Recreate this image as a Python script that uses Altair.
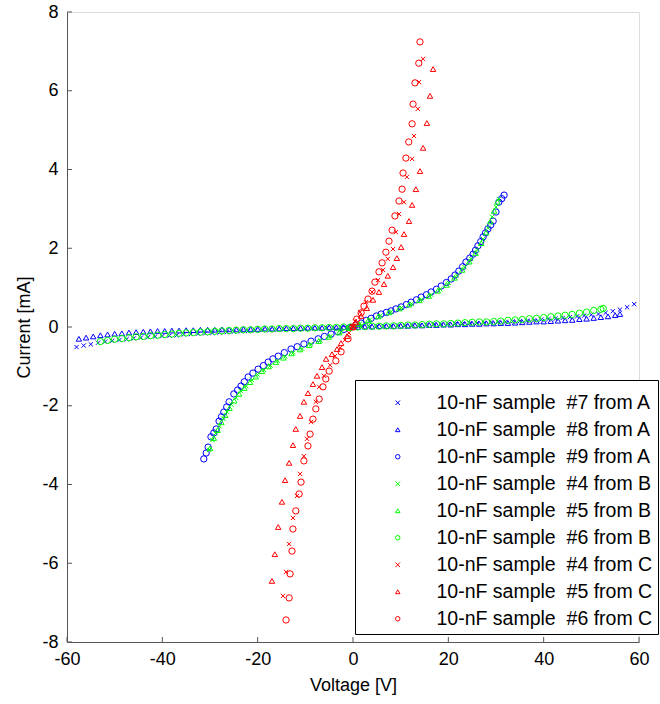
import altair as alt
import pandas as pd

FONT = "Liberation Sans"

SERIES = [
    "10-nF sample\u00a0 #7 from A",
    "10-nF sample\u00a0 #8 from A",
    "10-nF sample\u00a0 #9 from A",
    "10-nF sample\u00a0 #4 from B",
    "10-nF sample\u00a0 #5 from B",
    "10-nF sample\u00a0 #6 from B",
    "10-nF sample\u00a0 #4 from C",
    "10-nF sample\u00a0 #5 from C",
    "10-nF sample\u00a0 #6 from C",
]
COLORS = ["#0000ff"] * 3 + ["#00ff00"] * 3 + ["#ff0000"] * 3
X_PATH = "M-1,-1L1,1M-1,1L1,-1"
SHAPES = [X_PATH, "triangle-up", "circle"] * 3
SIZES = [18, 30, 40] * 3

XTICKS = [-60, -40, -20, 0, 20, 40, 60]
YTICKS = [-8, -6, -4, -2, 0, 2, 4, 6, 8]

# ---- #7 from A (blue x) ----
V_A7 = [-58.0, -56.5, -55.0, -53.5, -52.0, -50.5, -49.0, -47.5, -46.0, -44.5, -43.0, -41.5, -40.0,
        -38.5, -37.0, -35.5, -34.0, -32.5, -31.0, -29.5, -28.0, -26.5, -25.0, -23.5, -22.0, -20.5,
        -19.0, -17.5, -16.0, -14.5, -13.0, -11.5, -10.0, -8.5, -7.0, -5.5, -4.0, -2.5, -1.0, 0.5,
        2.0, 3.5, 5.0, 6.5, 8.0, 9.5, 11.0, 12.5, 14.0, 15.5, 17.0, 18.5, 20.0, 21.5, 23.0, 24.5,
        26.0, 27.5, 29.0, 30.5, 32.0, 33.5, 35.0, 36.5, 38.0, 39.5, 41.0, 42.5, 44.0, 45.5, 47.0,
        48.5, 50.0, 51.5, 53.0, 54.5, 56.0, 57.5, 59.0]
I_A7 = [-0.51, -0.47, -0.44, -0.40, -0.37, -0.35, -0.33, -0.31, -0.29, -0.27, -0.26, -0.24, -0.23,
        -0.22, -0.21, -0.19, -0.18, -0.17, -0.16, -0.15, -0.14, -0.13, -0.12, -0.11, -0.10, -0.09,
        -0.08, -0.08, -0.07, -0.06, -0.05, -0.05, -0.04, -0.03, -0.03, -0.02, -0.02, -0.01, 0.00, 0.00,
        0.01, 0.01, 0.02, 0.03, 0.03, 0.04, 0.04, 0.05, 0.05, 0.06, 0.07, 0.07, 0.08, 0.09, 0.09, 0.10,
        0.10, 0.11, 0.12, 0.13, 0.13, 0.14, 0.15, 0.16, 0.17, 0.19, 0.20, 0.21, 0.23, 0.25, 0.27,
        0.29, 0.31, 0.33, 0.36, 0.40, 0.44, 0.50, 0.58]

# ---- #8 from A (blue triangles) ----
V_A8 = [-57.5, -56.0, -54.5, -53.0, -51.5, -50.0, -48.5, -47.0, -45.5, -44.0, -42.5, -41.0, -39.5,
        -38.0, -36.5, -35.0, -33.5, -32.0, -30.5, -29.0, -27.5, -26.0, -24.5, -23.0, -21.5, -20.0,
        -18.5, -17.0, -15.5, -14.0, -12.5, -11.0, -9.5, -8.0, -6.5, -5.0, -3.5, -2.0, -0.5, 1.0,
        2.5, 4.0, 5.5, 7.0, 8.5, 10.0, 11.5, 13.0, 14.5, 16.0, 17.5, 19.0, 20.5, 22.0, 23.5, 25.0,
        26.5, 28.0, 29.5, 31.0, 32.5, 34.0, 35.5, 37.0, 38.5, 40.0, 41.5, 43.0, 44.5, 46.0, 47.5,
        49.0, 50.5, 52.0, 53.5, 55.0, 56.0]
I_A8 = [-0.30, -0.27, -0.24, -0.21, -0.19, -0.17, -0.16, -0.14, -0.13, -0.12, -0.11, -0.10, -0.10,
        -0.09, -0.09, -0.08, -0.08, -0.07, -0.07, -0.07, -0.06, -0.06, -0.06, -0.05, -0.05, -0.05,
        -0.04, -0.04, -0.04, -0.03, -0.03, -0.03, -0.02, -0.02, -0.02, -0.01, -0.01, 0.00, 0.00, 0.00,
        0.01, 0.01, 0.02, 0.02, 0.02, 0.03, 0.03, 0.04, 0.04, 0.05, 0.05, 0.06, 0.06, 0.07, 0.07, 0.08,
        0.08, 0.09, 0.09, 0.10, 0.10, 0.11, 0.12, 0.13, 0.14, 0.14, 0.15, 0.16, 0.17, 0.18, 0.20,
        0.21, 0.23, 0.25, 0.27, 0.30, 0.33]

# ---- #9 from A (blue circles) ----
V_A9 = [-31.3, -30.8, -30.4, -29.8, -29.2, -28.7, -28.1, -27.6, -27.1, -26.5, -26.0, -25.0, -24.2,
        -23.5, -22.8, -22.0, -21.0, -19.9, -18.8, -17.8, -16.8, -15.7, -14.4, -13.0, -11.7, -10.3,
        -8.8, -7.3, -6.0, -4.6, -3.2, -1.9, -0.6, 0.6, 1.7, 2.8, 3.8, 4.9, 5.9, 7.0, 8.0, 9.0, 10.1,
        11.2, 12.2, 13.3, 14.3, 15.4, 16.4, 17.5, 18.5, 19.6, 20.6, 21.4, 22.2, 23.0, 23.7, 24.5,
        25.2, 25.7, 26.2, 26.8, 27.3, 27.8, 28.3, 28.9, 29.4, 30.0, 30.6, 31.2, 31.7]
I_A9 = [-3.35, -3.20, -3.05, -2.79, -2.69, -2.59, -2.39, -2.28, -2.16, -2.03, -1.90, -1.70, -1.60,
        -1.50, -1.39, -1.27, -1.17, -1.07, -0.98, -0.89, -0.81, -0.74, -0.65, -0.56, -0.50, -0.43,
        -0.36, -0.30, -0.24, -0.18, -0.12, -0.06, -0.01, 0.05, 0.10, 0.17, 0.22, 0.28, 0.33, 0.37,
        0.41, 0.46, 0.51, 0.57, 0.63, 0.69, 0.76, 0.82, 0.89, 0.96, 1.04, 1.13, 1.22, 1.32, 1.42,
        1.53, 1.65, 1.75, 1.85, 1.95, 2.06, 2.17, 2.29, 2.39, 2.49, 2.59, 2.69, 2.92, 3.17, 3.26, 3.35]

# ---- #4 from B (green x) ----
V_B4 = [-30.2, -29.5, -28.8, -28.0, -27.2, -26.4, -25.5, -24.5, -23.5, -22.4, -21.2, -20.0, -18.7,
        -17.3, -15.8, -14.2, -12.5, -10.7, -8.8, -6.8, -4.7, -2.5, -0.5, 1.5, 3.6, 5.8, 8.0, 10.2,
        12.3, 14.4, 16.4, 18.3, 20.1, 21.8, 23.4, 24.8, 26.1, 27.3, 28.3, 29.2, 30.0, 30.6]
I_B4 = [-3.12, -2.87, -2.70, -2.52, -2.33, -2.16, -1.97, -1.80, -1.63, -1.50, -1.35, -1.21, -1.09,
        -0.98, -0.86, -0.75, -0.65, -0.55, -0.44, -0.34, -0.23, -0.12, -0.02, 0.09, 0.19, 0.29, 0.39,
        0.49, 0.59, 0.70, 0.82, 0.96, 1.12, 1.31, 1.52, 1.73, 1.96, 2.23, 2.52, 2.80, 3.05, 3.25]

# ---- #5 from B (green triangles) ----
V_B5 = [-30.0, -29.2, -28.4, -27.6, -26.8, -25.9, -24.9, -23.9, -22.8, -21.6, -20.4, -19.1, -17.7,
        -16.2, -14.6, -12.9, -11.1, -9.2, -7.2, -5.1, -2.9, -0.8, 1.2, 3.2, 5.3, 7.5, 9.7, 11.8,
        13.9, 15.9, 17.8, 19.6, 21.3, 22.9, 24.4, 25.7, 26.9, 27.9, 28.8, 29.6, 30.3]
I_B5 = [-3.08, -2.82, -2.62, -2.42, -2.24, -2.06, -1.87, -1.70, -1.55, -1.40, -1.26, -1.12, -1.00,
        -0.89, -0.78, -0.67, -0.57, -0.46, -0.36, -0.25, -0.14, -0.03, 0.07, 0.17, 0.27, 0.37, 0.47,
        0.57, 0.68, 0.79, 0.92, 1.07, 1.25, 1.45, 1.66, 1.88, 2.13, 2.40, 2.68, 2.95, 3.18]

# ---- #6 from B (green circles) ----
V_B6 = [-53.0, -51.5, -50.0, -48.5, -47.0, -45.5, -44.0, -42.5, -41.0, -39.5, -38.0, -36.5, -35.0,
        -33.5, -32.0, -30.5, -29.0, -27.5, -26.0, -24.5, -23.0, -21.5, -20.0, -18.5, -17.0, -15.5,
        -14.0, -12.5, -11.0, -9.5, -8.0, -6.5, -5.0, -3.5, -2.0, -0.5, 1.0, 2.5, 4.0, 5.5, 7.0, 8.5,
        10.0, 11.5, 13.0, 14.5, 16.0, 17.5, 19.0, 20.5, 22.0, 23.5, 25.0, 26.5, 28.0, 29.5, 31.0,
        32.5, 34.0, 35.5, 37.0, 38.5, 40.0, 41.5, 43.0, 44.5, 46.0, 47.5, 49.0, 50.5, 52.0, 52.5]
I_B6 = [-0.37, -0.34, -0.31, -0.29, -0.27, -0.25, -0.24, -0.22, -0.21, -0.19, -0.18, -0.16, -0.15,
        -0.14, -0.13, -0.12, -0.11, -0.10, -0.09, -0.08, -0.07, -0.07, -0.06, -0.05, -0.05, -0.04,
        -0.04, -0.04, -0.03, -0.03, -0.02, -0.02, -0.01, -0.01, 0.00, 0.00, 0.00, 0.01, 0.02, 0.02,
        0.03, 0.03, 0.04, 0.05, 0.05, 0.06, 0.07, 0.08, 0.08, 0.09, 0.10, 0.11, 0.12, 0.13, 0.13,
        0.14, 0.15, 0.17, 0.18, 0.19, 0.21, 0.22, 0.24, 0.26, 0.28, 0.30, 0.32, 0.35, 0.38, 0.42,
        0.45, 0.47]

# ---- #4 from C (red x) ----
V_C4 = [-14.7, -14.05, -13.4, -12.6, -11.75, -11.1, -10.3, -9.65, -8.8, -7.8, -7.1, -6.1, -4.8,
        -3.8, -2.7, -1.7, -0.85, 0.0, 0.4, 1.5, 2.7, 4.0, 5.25, 6.3, 7.3, 8.4, 9.0, 9.65, 10.7,
        11.3, 12.4, 12.8, 13.6, 13.85, 14.7]
I_C4 = [-6.83, -6.22, -5.51, -4.85, -4.29, -3.73, -3.28, -2.84, -2.41, -1.90, -1.52, -1.24, -0.97,
        -0.74, -0.53, -0.33, -0.15, 0.0, 0.15, 0.38, 0.63, 0.89, 1.19, 1.45, 1.73, 1.98, 2.41, 2.87,
        3.17, 3.81, 4.27, 4.85, 5.54, 6.22, 6.81]

# ---- #5 from C (red triangles) ----
V_C5 = [-17.0, -16.4, -15.7, -14.9, -14.25, -13.4, -12.6, -12.0, -11.1, -10.3, -9.45, -8.4, -7.55,
        -6.5, -5.65, -4.4, -3.35, -2.5, -1.25, 0.0, 0.6, 1.7, 2.9, 4.2, 5.45, 6.5, 7.3, 8.4, 9.2,
        10.1, 10.7, 11.75, 12.4, 13.2, 14.05, 14.7, 15.5, 16.15, 16.8]
I_C5 = [-6.45, -5.77, -5.08, -4.44, -3.89, -3.45, -3.00, -2.59, -2.26, -1.90, -1.68, -1.45, -1.24,
        -1.02, -0.81, -0.69, -0.56, -0.41, -0.23, 0.0, 0.13, 0.28, 0.48, 0.69, 0.89, 1.09, 1.30,
        1.52, 1.75, 2.03, 2.36, 2.69, 3.10, 3.50, 3.96, 4.55, 5.18, 5.87, 6.55]

# ---- #6 from C (red circles) ----
V_C6 = [-14.05, -13.4, -13.2, -12.8, -12.6, -12.0, -11.3, -10.9, -10.3, -9.45, -9.0, -8.4, -7.8,
        -7.1, -6.3, -5.7, -5.0, -3.6, -2.5, -1.05, 0.0, 0.8, 1.7, 2.3, 3.15, 4.0, 4.6, 5.45, 6.1,
        6.9, 7.55, 8.2, 8.8, 9.65, 10.3, 10.5, 11.1, 11.7, 12.4, 12.6, 13.0, 13.8, 14.05]
I_C6 = [-7.44, -6.88, -6.27, -5.69, -5.13, -4.67, -4.24, -3.94, -3.40, -3.02, -2.72, -2.34, -2.08,
        -1.83, -1.52, -1.32, -1.12, -0.86, -0.63, -0.30, 0.0, 0.2, 0.36, 0.53, 0.71, 0.91, 1.14,
        1.40, 1.63, 1.90, 2.18, 2.46, 2.82, 3.20, 3.50, 3.91, 4.29, 4.70, 5.16, 5.66, 6.20, 6.70, 7.24]

ALL_V = [V_A7, V_A8, V_A9, V_B4, V_B5, V_B6, V_C4, V_C5, V_C6]
ALL_I = [I_A7, I_A8, I_A9, I_B4, I_B5, I_B6, I_C4, I_C5, I_C6]

rows = []
for name, vs, cs in zip(SERIES, ALL_V, ALL_I):
    for v, c in zip(vs, cs):
        rows.append({"series": name, "v": v, "i": c})
df = pd.DataFrame(rows)

AXIS_COLOR = "#555555"
TXT = 18
x_axis = alt.Axis(values=XTICKS, title="Voltage [V]", grid=False, ticks=False, tickSize=0,
                  labelExpr="'' + datum.value",
                  domainColor=AXIS_COLOR, labelColor="black", labelFontSize=TXT, labelFont=FONT,
                  labelPadding=8, labelFlush=False, labelOverlap=False,
                  titleFont=FONT, titleFontSize=TXT, titleFontWeight="normal", titleColor="black",
                  titlePadding=8)
y_axis = alt.Axis(values=YTICKS, title="Current [mA]", grid=False, ticks=False, tickSize=0,
                  labelExpr="'' + datum.value",
                  domainColor=AXIS_COLOR, labelColor="black", labelFontSize=TXT, labelFont=FONT,
                  labelPadding=9, labelFlush=False, labelOverlap=False,
                  titleFont=FONT, titleFontSize=TXT, titleFontWeight="normal", titleColor="black",
                  titlePadding=8)
X_ENC = alt.X("v:Q", scale=alt.Scale(domain=[-60, 60], nice=False, zero=False), axis=x_axis)
Y_ENC = alt.Y("i:Q", scale=alt.Scale(domain=[-8, 8], nice=False, zero=False), axis=y_axis)

legend = alt.Legend(orient="none", legendX=288, legendY=368, title=" ", titleFontSize=4,
                    titlePadding=4, padding=5, strokeColor="black", fillColor="white",
                    labelFont=FONT, labelFontSize=19.5, labelColor="black", labelLimit=0,
                    rowPadding=6, symbolOffset=28, labelOffset=29, symbolSize=20,
                    symbolStrokeWidth=1)

COLOR_ENC = alt.Color("series:N", scale=alt.Scale(domain=SERIES, range=COLORS), legend=legend)
SHAPE_ENC = alt.Shape("series:N", scale=alt.Scale(domain=SERIES, range=SHAPES), legend=legend)

layers = []
for name, size in zip(SERIES, SIZES):
    layers.append(
        alt.Chart(df)
        .transform_filter(alt.datum.series == name)
        .mark_point(filled=False, opacity=1, strokeWidth=1, size=size)
        .encode(x=X_ENC, y=Y_ENC, color=COLOR_ENC, shape=SHAPE_ENC)
    )

xt = pd.DataFrame({"v": XTICKS})
yt = pd.DataFrame({"i": YTICKS})
xticks = alt.Chart(xt).mark_rule(color=AXIS_COLOR, strokeWidth=1).encode(
    x=X_ENC, y=alt.value(630), y2=alt.value(625))
yticks = alt.Chart(yt).mark_rule(color=AXIS_COLOR, strokeWidth=1).encode(
    y=Y_ENC, x=alt.value(0), x2=alt.value(5))

chart = (
    alt.layer(*layers, xticks, yticks)
    .properties(width=572, height=630,
                autosize=alt.AutoSizeParams(type="none"),
                padding={"left": 67, "top": 12, "right": 21, "bottom": 62},
                background="white")
    .configure_view(stroke=None)
    .configure(font=FONT)
)

chart.save("out.html", embed_options={"renderer": "svg", "actions": False})
